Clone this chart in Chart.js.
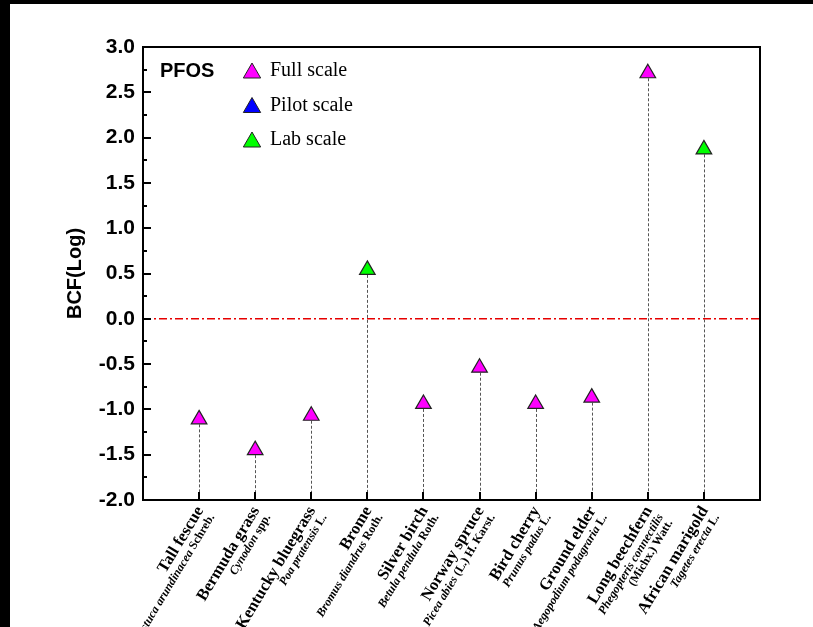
<!DOCTYPE html>
<html><head><meta charset="utf-8">
<script src="https://cdn.jsdelivr.net/npm/chart.js@4/dist/chart.umd.min.js"></script>
<style>
html,body{margin:0;padding:0;background:#000;width:813px;height:627px;overflow:hidden}
#c{position:absolute;left:10px;top:4px;background:#fff}
</style></head><body>
<canvas id="c" width="803" height="623"></canvas>
<script>
// ---- data ----
const commonNames = ['Tall fescue','Bermuda grass','Kentucky bluegrass','Brome','Silver birch','Norway spruce','Bird cherry','Ground elder','Long beechfern','African marigold'];
const speciesNames = ['Festuca arundinacea','Cynodon','Poa pratensis','Bromus diandrus','Betula pendula','Picea abies','Prunus padus','Aegopodium podagraria','Phegopteris connectilis','Tagetes erecta'];
const authorities = ['Schreb.','spp.','L.','Roth.','Roth.','(L.) H. Karst.','L.','L.','\n(Michx.) Watt.','L.'];
const fullScale  = [-1.11,-1.45,-1.07,null,-0.94,-0.54,-0.94,-0.87,2.71,null];
const pilotScale = [null,null,null,null,null,null,null,null,null,null];
const labScale   = [null,null,null,0.54,null,null,null,null,null,1.87];
const seriesLabels = ['Full scale','Pilot scale','Lab scale'];
const seriesColors = ['#ff00ff','#0000ff','#00ff00'];
const legendTitle = 'PFOS';
const yTitle = 'BCF(Log)';
const yMin = -2.0, yMax = 3.0, yStep = 0.5;

function toPoints(arr){ return arr.map((v,i)=> v===null?null:{x:i+1,y:v}).filter(p=>p); }

const decor = {
  id:'decor',
  beforeDatasetsDraw(chart){
    const {ctx, chartArea:ca, scales:{x,y}} = chart;
    ctx.save();
    ctx.strokeStyle='#555'; ctx.lineWidth=1; ctx.setLineDash([3,2]);
    chart.data.datasets.forEach(ds=>{
      ds.data.forEach(p=>{
        const px=Math.round(x.getPixelForValue(p.x))+0.5;
        ctx.beginPath(); ctx.moveTo(px,y.getPixelForValue(p.y)); ctx.lineTo(px,ca.bottom); ctx.stroke();
      });
    });
    ctx.strokeStyle='rgb(230,0,0)'; ctx.lineWidth=1.5; ctx.setLineDash([8,3,2,3]);
    const y0=y.getPixelForValue(0);
    ctx.beginPath(); ctx.moveTo(ca.left,y0); ctx.lineTo(ca.right+2,y0); ctx.stroke();
    ctx.restore();
  },
  afterDatasetsDraw(chart){
    const {ctx, chartArea:ca, scales:{x,y}} = chart;
    ctx.save();
    ctx.setLineDash([]);
    ctx.strokeStyle='#000'; ctx.lineWidth=2;
    ctx.strokeRect(ca.left,ca.top,ca.right-ca.left,ca.bottom-ca.top);
    for(let v=yMin; v<=yMax+1e-9; v+=yStep/2){
      const py=Math.round(y.getPixelForValue(v));
      const major = Math.abs(v/yStep-Math.round(v/yStep))<1e-6;
      ctx.beginPath(); ctx.moveTo(ca.left,py); ctx.lineTo(ca.left+(major?8:4),py); ctx.stroke();
    }
    commonNames.forEach((n,i)=>{
      const px=Math.round(x.getPixelForValue(i+1));
      ctx.beginPath(); ctx.moveTo(px,ca.bottom); ctx.lineTo(px,ca.bottom-8); ctx.stroke();
    });
    const ang=-59*Math.PI/180;
    commonNames.forEach((name,i)=>{
      const px=x.getPixelForValue(i+1);
      ctx.save();
      ctx.translate(px+1, ca.bottom+8);
      ctx.rotate(ang);
      ctx.fillStyle='#000';
      ctx.textBaseline='middle';
      ctx.textAlign='left';
      ctx.font='bold 16.5px "Liberation Serif"';
      const w0=ctx.measureText(name).width;
      ctx.fillText(name,-w0,0);
      const auth=authorities[i];
      const fI='italic bold 12px "Liberation Serif"', fR='bold 12px "Liberation Serif"';
      if(auth.startsWith('\n')){
        ctx.font=fI; const w1=ctx.measureText(speciesNames[i]).width;
        ctx.fillText(speciesNames[i],-w1,14);
        ctx.font=fR; const a=auth.slice(1); const w2=ctx.measureText(a).width;
        ctx.fillText(a,-w2,25);
      } else {
        ctx.font=fI; const s=speciesNames[i]+' '; const ws=ctx.measureText(s).width;
        ctx.font=fR; const wa=ctx.measureText(auth).width;
        ctx.font=fI; ctx.fillText(s,-(ws+wa),14);
        ctx.font=fR; ctx.fillText(auth,-wa,14);
      }
      ctx.restore();
    });
    const lx=ca.left, ly=ca.top+24;
    ctx.fillStyle='#000'; ctx.textBaseline='middle'; ctx.textAlign='left';
    ctx.font='bold 20px "Liberation Sans"';
    ctx.fillText(legendTitle, lx+17, ly);
    chart.data.datasets.forEach((ds,k)=>{
      const cy=ly+k*34.5, cx=lx+109, r=10;
      ctx.beginPath();
      for(let j=0;j<3;j++){
        const a=j*2*Math.PI/3;
        const X=cx+Math.sin(a)*r, Y=cy+2-Math.cos(a)*r;
        if(j===0)ctx.moveTo(X,Y); else ctx.lineTo(X,Y);
      }
      ctx.closePath();
      ctx.fillStyle=ds.backgroundColor; ctx.fill();
      ctx.strokeStyle='#222'; ctx.lineWidth=1; ctx.stroke();
      ctx.fillStyle='#000';
      ctx.font='20px "Liberation Serif"';
      ctx.fillText(ds.label, lx+127, cy);
    });
    ctx.restore();
  }
};

new Chart(document.getElementById('c'),{
  type:'scatter',
  data:{datasets:[fullScale,pilotScale,labScale].map((arr,k)=>({
    label:seriesLabels[k], data:toPoints(arr),
    backgroundColor:seriesColors[k], borderColor:'#222', borderWidth:1.2,
    pointStyle:'triangle', pointRadius:9, pointHoverRadius:9, showLine:false
  }))},
  options:{
    responsive:false, animation:false,
    layout:{padding:{left:0,top:43,right:53,bottom:0}},
    plugins:{legend:{display:false},tooltip:{enabled:false}},
    scales:{
      x:{type:'linear',min:0,max:commonNames.length+1,
         ticks:{display:false}, grid:{display:false,drawTicks:false}, border:{display:false},
         afterFit(s){s.height=127;}},
      y:{type:'linear',min:yMin,max:yMax,
         ticks:{stepSize:yStep,padding:8,color:'#000',font:{family:'Liberation Sans',weight:'bold',size:21},
                callback:v=>v.toFixed(1)},
         grid:{display:false,drawTicks:false}, border:{display:false},
         title:{display:true,text:yTitle,color:'#000',font:{family:'Liberation Sans',weight:'bold',size:20},padding:{top:53,bottom:0}},
         afterFit(s){s.width=133;}}
    }
  },
  plugins:[decor]
});
</script>
</body></html>
